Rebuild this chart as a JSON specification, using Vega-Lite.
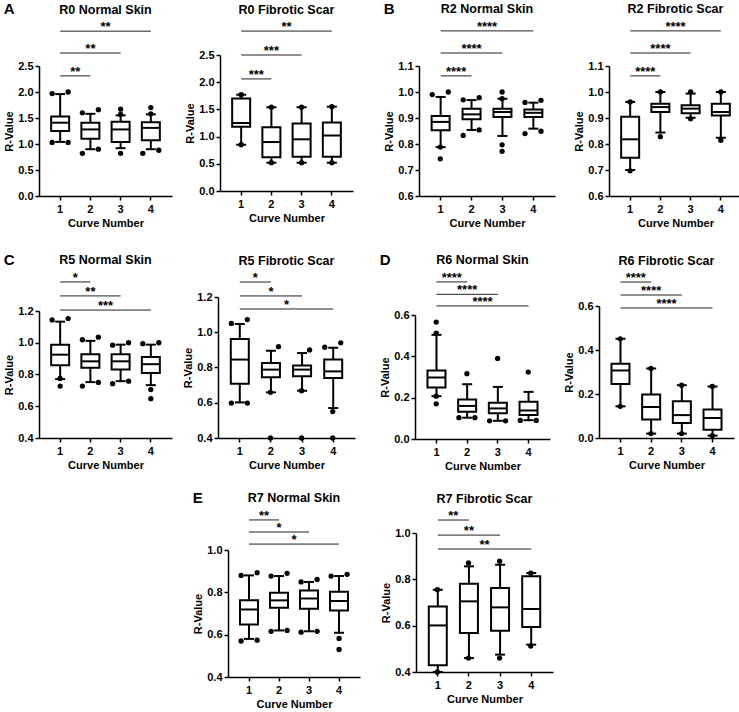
{
"$schema": "https://vega.github.io/schema/vega-lite/v6.json",
"padding": {"left": 3, "top": 2, "right": 2, "bottom": 2},
"config": {
  "font": "Liberation Sans",
  "view": {"stroke": null},
  "axis": {"domainColor": "black", "domainWidth": 1.5, "tickColor": "black", "tickWidth": 1.5, "tickSize": 4, "labelColor": "black", "labelFont": "Liberation Sans", "labelFontWeight": "bold", "labelFontSize": 11, "titleFont": "Liberation Sans", "titleFontWeight": "bold", "titleFontSize": 11, "titleColor": "black", "grid": false, "labelPadding": 2, "labelOverlap": false, "labelFlush": false},
  "axisX": {"labelAngle": 0, "titlePadding": 3, "labelPadding": 3},
  "axisY": {"titlePadding": 3, "labelOverlap": false, "tickCount": 12},
  "title": {"font": "Liberation Sans", "fontSize": 12.5, "fontWeight": "bold", "color": "black", "frame": "group", "anchor": "middle", "offset": 5}
},
"datasets": {
  "R0N_box": [{"curve":1,"lo":1.04,"q1":1.25,"med":1.41,"q3":1.53,"hi":1.96},{"curve":2,"lo":0.90,"q1":1.10,"med":1.28,"q3":1.41,"hi":1.58},{"curve":3,"lo":0.92,"q1":1.04,"med":1.28,"q3":1.43,"hi":1.55},{"curve":4,"lo":0.90,"q1":1.07,"med":1.31,"q3":1.42,"hi":1.57}],
  "R0N_pts": [{"curve":1,"off":-1,"v":1.97},{"curve":1,"off":1,"v":2.0},{"curve":1,"off":-1,"v":1.03},{"curve":1,"off":1,"v":1.03},{"curve":2,"off":-1,"v":1.6},{"curve":2,"off":1,"v":1.66},{"curve":2,"off":-1,"v":0.82},{"curve":2,"off":1,"v":0.9},{"curve":3,"off":0,"v":1.67},{"curve":3,"off":0,"v":1.57},{"curve":3,"off":0,"v":0.82},{"curve":4,"off":0,"v":1.7},{"curve":4,"off":0,"v":1.58},{"curve":4,"off":-1,"v":0.82},{"curve":4,"off":1,"v":0.88}],
  "R0N_sig": [{"curve":1,"curve2":2,"y":2.31,"label":"**"},{"curve":1,"curve2":3,"y":2.75,"label":"**"},{"curve":1,"curve2":4,"y":3.17,"label":"**"}],
  "R0F_box": [{"curve":1,"lo":0.85,"q1":1.18,"med":1.25,"q3":1.70,"hi":1.77},{"curve":2,"lo":0.52,"q1":0.62,"med":0.90,"q3":1.17,"hi":1.54},{"curve":3,"lo":0.52,"q1":0.63,"med":0.95,"q3":1.24,"hi":1.54},{"curve":4,"lo":0.52,"q1":0.63,"med":1.02,"q3":1.26,"hi":1.55}],
  "R0F_pts": [{"curve":1,"off":0,"v":1.77},{"curve":1,"off":0,"v":0.85},{"curve":2,"off":0,"v":1.54},{"curve":2,"off":0,"v":0.52},{"curve":3,"off":0,"v":1.54},{"curve":3,"off":0,"v":0.52},{"curve":4,"off":0,"v":1.55},{"curve":4,"off":0,"v":0.52}],
  "R0F_sig": [{"curve":1,"curve2":2,"y":2.06,"label":"***"},{"curve":1,"curve2":3,"y":2.5,"label":"***"},{"curve":1,"curve2":4,"y":2.94,"label":"**"}],
  "R2N_box": [{"curve":1,"lo":0.788,"q1":0.853,"med":0.885,"q3":0.908,"hi":0.981},{"curve":2,"lo":0.854,"q1":0.895,"med":0.914,"q3":0.936,"hi":0.969},{"curve":3,"lo":0.831,"q1":0.904,"med":0.923,"q3":0.936,"hi":0.974},{"curve":4,"lo":0.859,"q1":0.904,"med":0.92,"q3":0.933,"hi":0.959}],
  "R2N_pts": [{"curve":1,"off":-1,"v":0.99},{"curve":1,"off":1,"v":1.0},{"curve":1,"off":0,"v":0.788},{"curve":1,"off":0,"v":0.743},{"curve":2,"off":-1,"v":0.97},{"curve":2,"off":1,"v":0.978},{"curve":2,"off":-1,"v":0.833},{"curve":2,"off":1,"v":0.854},{"curve":3,"off":0,"v":1.0},{"curve":3,"off":0,"v":0.974},{"curve":3,"off":0,"v":0.797},{"curve":3,"off":0,"v":0.772},{"curve":4,"off":-1,"v":0.96},{"curve":4,"off":1,"v":0.968},{"curve":4,"off":-1,"v":0.84},{"curve":4,"off":1,"v":0.849}],
  "R2N_sig": [{"curve":1,"curve2":2,"y":1.062,"label":"****"},{"curve":1,"curve2":3,"y":1.15,"label":"****"},{"curve":1,"curve2":4,"y":1.235,"label":"****"}],
  "R2F_box": [{"curve":1,"lo":0.70,"q1":0.747,"med":0.818,"q3":0.905,"hi":0.962},{"curve":2,"lo":0.844,"q1":0.923,"med":0.942,"q3":0.955,"hi":1.0},{"curve":3,"lo":0.901,"q1":0.918,"med":0.936,"q3":0.949,"hi":0.994},{"curve":4,"lo":0.824,"q1":0.91,"med":0.923,"q3":0.955,"hi":1.0}],
  "R2F_pts": [{"curve":1,"off":0,"v":0.962},{"curve":1,"off":0,"v":0.697},{"curve":2,"off":0,"v":1.0},{"curve":2,"off":0,"v":0.828},{"curve":3,"off":0,"v":1.0},{"curve":3,"off":0,"v":0.897},{"curve":4,"off":0,"v":1.0},{"curve":4,"off":0,"v":0.814}],
  "R2F_sig": [{"curve":1,"curve2":2,"y":1.062,"label":"****"},{"curve":1,"curve2":3,"y":1.15,"label":"****"},{"curve":1,"curve2":4,"y":1.235,"label":"****"}],
  "R5N_box": [{"curve":1,"lo":0.771,"q1":0.858,"med":0.925,"q3":0.988,"hi":1.133},{"curve":2,"lo":0.752,"q1":0.842,"med":0.883,"q3":0.927,"hi":1.012},{"curve":3,"lo":0.758,"q1":0.831,"med":0.883,"q3":0.927,"hi":0.988},{"curve":4,"lo":0.733,"q1":0.81,"med":0.865,"q3":0.91,"hi":0.988}],
  "R5N_pts": [{"curve":1,"off":-1,"v":1.144},{"curve":1,"off":1,"v":1.152},{"curve":1,"off":0,"v":0.775},{"curve":1,"off":0,"v":0.727},{"curve":2,"off":-1,"v":1.019},{"curve":2,"off":1,"v":1.035},{"curve":2,"off":-1,"v":0.727},{"curve":2,"off":1,"v":0.75},{"curve":3,"off":-1,"v":0.985},{"curve":3,"off":1,"v":1.0},{"curve":3,"off":-1,"v":0.742},{"curve":3,"off":1,"v":0.758},{"curve":4,"off":-1,"v":0.994},{"curve":4,"off":1,"v":1.0},{"curve":4,"off":0,"v":0.705},{"curve":4,"off":0,"v":0.648}],
  "R5N_sig": [{"curve":1,"curve2":2,"y":1.383,"label":"*"},{"curve":1,"curve2":3,"y":1.295,"label":"**"},{"curve":1,"curve2":4,"y":1.206,"label":"***"}],
  "R5F_box": [{"curve":1,"lo":0.602,"q1":0.708,"med":0.845,"q3":0.962,"hi":1.047},{"curve":2,"lo":0.659,"q1":0.744,"med":0.788,"q3":0.825,"hi":0.895},{"curve":3,"lo":0.668,"q1":0.75,"med":0.788,"q3":0.812,"hi":0.882},{"curve":4,"lo":0.57,"q1":0.74,"med":0.778,"q3":0.845,"hi":0.912}],
  "R5F_pts": [{"curve":1,"off":-1,"v":1.05},{"curve":1,"off":1,"v":1.072},{"curve":1,"off":-1,"v":0.598},{"curve":1,"off":1,"v":0.598},{"curve":2,"off":1,"v":0.918},{"curve":2,"off":0,"v":0.659},{"curve":2,"off":0,"v":0.4},{"curve":3,"off":1,"v":0.9},{"curve":3,"off":0,"v":0.668},{"curve":3,"off":0,"v":0.4},{"curve":4,"off":-1,"v":0.915},{"curve":4,"off":1,"v":0.94},{"curve":4,"off":0,"v":0.55},{"curve":4,"off":0,"v":0.4}],
  "R5F_sig": [{"curve":1,"curve2":2,"y":1.285,"label":"*"},{"curve":1,"curve2":3,"y":1.206,"label":"*"},{"curve":1,"curve2":4,"y":1.132,"label":"*"}],
  "R6N_box": [{"curve":1,"lo":0.207,"q1":0.249,"med":0.297,"q3":0.332,"hi":0.504},{"curve":2,"lo":0.103,"q1":0.132,"med":0.16,"q3":0.191,"hi":0.265},{"curve":3,"lo":0.088,"q1":0.124,"med":0.148,"q3":0.175,"hi":0.252},{"curve":4,"lo":0.091,"q1":0.116,"med":0.138,"q3":0.18,"hi":0.228}],
  "R6N_pts": [{"curve":1,"off":0,"v":0.566},{"curve":1,"off":0,"v":0.512},{"curve":1,"off":0,"v":0.207},{"curve":1,"off":0,"v":0.17},{"curve":2,"off":0,"v":0.316},{"curve":2,"off":-1,"v":0.103},{"curve":2,"off":1,"v":0.103},{"curve":3,"off":0,"v":0.39},{"curve":3,"off":-1,"v":0.088},{"curve":3,"off":1,"v":0.088},{"curve":4,"off":0,"v":0.324},{"curve":4,"off":-1,"v":0.09},{"curve":4,"off":1,"v":0.09}],
  "R6N_sig": [{"curve":1,"curve2":2,"y":0.76,"label":"****"},{"curve":1,"curve2":3,"y":0.70,"label":"****"},{"curve":1,"curve2":4,"y":0.644,"label":"****"}],
  "R6F_box": [{"curve":1,"lo":0.144,"q1":0.246,"med":0.307,"q3":0.337,"hi":0.451},{"curve":2,"lo":0.02,"q1":0.084,"med":0.141,"q3":0.198,"hi":0.316},{"curve":3,"lo":0.02,"q1":0.068,"med":0.104,"q3":0.167,"hi":0.24},{"curve":4,"lo":0.011,"q1":0.038,"med":0.091,"q3":0.129,"hi":0.234}],
  "R6F_pts": [{"curve":1,"off":0,"v":0.451},{"curve":1,"off":0,"v":0.144},{"curve":2,"off":0,"v":0.316},{"curve":2,"off":0,"v":0.02},{"curve":3,"off":0,"v":0.24},{"curve":3,"off":0,"v":0.02},{"curve":4,"off":0,"v":0.234},{"curve":4,"off":0,"v":0.011}],
  "R6F_sig": [{"curve":1,"curve2":2,"y":0.709,"label":"****"},{"curve":1,"curve2":3,"y":0.65,"label":"****"},{"curve":1,"curve2":4,"y":0.591,"label":"****"}],
  "R7N_box": [{"curve":1,"lo":0.58,"q1":0.648,"med":0.719,"q3":0.763,"hi":0.88},{"curve":2,"lo":0.62,"q1":0.727,"med":0.762,"q3":0.798,"hi":0.877},{"curve":3,"lo":0.616,"q1":0.722,"med":0.771,"q3":0.809,"hi":0.849},{"curve":4,"lo":0.609,"q1":0.714,"med":0.759,"q3":0.803,"hi":0.877}],
  "R7N_pts": [{"curve":1,"off":-1,"v":0.88},{"curve":1,"off":1,"v":0.893},{"curve":1,"off":-1,"v":0.57},{"curve":1,"off":1,"v":0.574},{"curve":2,"off":-1,"v":0.877},{"curve":2,"off":1,"v":0.89},{"curve":2,"off":-1,"v":0.616},{"curve":2,"off":1,"v":0.62},{"curve":3,"off":-1,"v":0.849},{"curve":3,"off":1,"v":0.861},{"curve":3,"off":-1,"v":0.612},{"curve":3,"off":1,"v":0.616},{"curve":4,"off":-1,"v":0.877},{"curve":4,"off":1,"v":0.885},{"curve":4,"off":0,"v":0.582},{"curve":4,"off":0,"v":0.53}],
  "R7N_sig": [{"curve":1,"curve2":2,"y":1.142,"label":"**"},{"curve":1,"curve2":3,"y":1.085,"label":"*"},{"curve":1,"curve2":4,"y":1.028,"label":"*"}],
  "R7F_box": [{"curve":1,"lo":0.40,"q1":0.429,"med":0.601,"q3":0.683,"hi":0.755},{"curve":2,"lo":0.46,"q1":0.568,"med":0.705,"q3":0.781,"hi":0.856},{"curve":3,"lo":0.475,"q1":0.578,"med":0.679,"q3":0.763,"hi":0.863},{"curve":4,"lo":0.518,"q1":0.594,"med":0.672,"q3":0.813,"hi":0.827}],
  "R7F_pts": [{"curve":1,"off":0,"v":0.755},{"curve":1,"off":0,"v":0.4},{"curve":2,"off":0,"v":0.871},{"curve":2,"off":0,"v":0.46},{"curve":3,"off":0,"v":0.878},{"curve":3,"off":0,"v":0.46},{"curve":4,"off":0,"v":0.827},{"curve":4,"off":0,"v":0.512}],
  "R7F_sig": [{"curve":1,"curve2":2,"y":1.056,"label":"**"},{"curve":1,"curve2":3,"y":0.991,"label":"**"},{"curve":1,"curve2":4,"y":0.931,"label":"**"}]
},
"spacing": 20,
"center": true,
"vconcat": [
 {"spacing": 25, "vconcat": [
 {"spacing": 30, "hconcat": [
  {"title": {"text": "A", "anchor": "start", "frame": "bounds", "orient": "top", "fontSize": 15, "baseline": "top", "offset": -15}, "spacing": 12, "hconcat": [
   {"spacing": 0, "vconcat": [{"width": 133, "height": 1, "data": {"values": []}, "mark": "rule", "encoding": {}},
   {"title": "R0 Normal Skin", "width": 133, "height": 130, "resolve": {"scale": {"x": "independent"}}, "layer": [
    {"layer": [
     {"data": {"name": "R0N_box"}, "mark": {"type": "rule", "strokeWidth": 2, "color": "black"}, "encoding": {"x": {"field": "curve", "type": "ordinal", "scale": {"type": "band", "paddingInner": 0, "paddingOuter": 0.2}, "axis": {"title": "Curve Number"}}, "y": {"field": "lo", "type": "quantitative", "scale": {"domain": [0, 2.5], "nice": false, "zero": false}, "axis": {"values": [0,0.5,1,1.5,2,2.5], "tickCount": 12, "format": ".1f", "title": "R-Value", "labelOverlap": false}}, "y2": {"field": "hi"}}},
     {"data": {"name": "R0N_box"}, "mark": {"type": "bar", "width": 18, "fill": "white", "stroke": "black", "strokeWidth": 2}, "encoding": {"x": {"field": "curve", "type": "ordinal"}, "y": {"field": "q1", "type": "quantitative"}, "y2": {"field": "q3"}}},
     {"data": {"name": "R0N_box"}, "mark": {"type": "tick", "size": 18, "thickness": 2, "color": "black", "opacity": 1}, "encoding": {"x": {"field": "curve", "type": "ordinal"}, "y": {"field": "med", "type": "quantitative"}}},
     {"data": {"name": "R0N_box"}, "mark": {"type": "tick", "size": 10, "thickness": 2, "color": "black", "opacity": 1}, "encoding": {"x": {"field": "curve", "type": "ordinal"}, "y": {"field": "lo", "type": "quantitative"}}},
     {"data": {"name": "R0N_box"}, "mark": {"type": "tick", "size": 10, "thickness": 2, "color": "black", "opacity": 1}, "encoding": {"x": {"field": "curve", "type": "ordinal"}, "y": {"field": "hi", "type": "quantitative"}}},
     {"data": {"name": "R0N_pts"}, "mark": {"type": "point", "filled": true, "size": 28, "color": "black", "opacity": 1}, "encoding": {"x": {"field": "curve", "type": "ordinal"}, "xOffset": {"field": "off", "type": "quantitative", "scale": {"domain": [-1, 1], "range": [7.1, 23.1]}}, "y": {"field": "v", "type": "quantitative"}}}
    ]},
    {"layer": [
     {"data": {"name": "R0N_sig"}, "mark": {"type": "rule", "strokeWidth": 1, "color": "#222"}, "encoding": {"x": {"field": "curve", "type": "quantitative", "scale": {"domain": [0.3, 4.7], "nice": false, "zero": false}, "axis": null}, "x2": {"field": "curve2"}, "y": {"field": "y", "type": "quantitative", "scale": {"domain": [0, 2.5], "nice": false, "zero": false}, "axis": {"values": [0,0.5,1,1.5,2,2.5], "tickCount": 12, "format": ".1f", "title": "R-Value", "labelOverlap": false}}}},
     {"data": {"name": "R0N_sig"}, "transform": [{"fold": ["curve", "curve2"], "as": ["end", "xv"]}], "mark": {"type": "text", "fontSize": 13, "fontWeight": "bold", "baseline": "alphabetic", "color": "black"}, "encoding": {"x": {"field": "xv", "type": "quantitative", "aggregate": "mean"}, "y": {"field": "y", "type": "quantitative"}, "text": {"field": "label"}}}
    ]}
   ]}]},
   {"spacing": 0, "vconcat": [{"width": 133, "height": 1, "data": {"values": []}, "mark": "rule", "encoding": {}},
   {"title": "R0 Fibrotic Scar", "width": 133, "height": 136, "resolve": {"scale": {"x": "independent"}}, "layer": [
    {"layer": [
     {"data": {"name": "R0F_box"}, "mark": {"type": "rule", "strokeWidth": 2, "color": "black"}, "encoding": {"x": {"field": "curve", "type": "ordinal", "scale": {"type": "band", "paddingInner": 0, "paddingOuter": 0.2}, "axis": {"title": "Curve Number"}}, "y": {"field": "lo", "type": "quantitative", "scale": {"domain": [0, 2.5], "nice": false, "zero": false}, "axis": {"values": [0,0.5,1,1.5,2,2.5], "tickCount": 12, "format": ".1f", "title": "R-Value", "labelOverlap": false}}, "y2": {"field": "hi"}}},
     {"data": {"name": "R0F_box"}, "mark": {"type": "bar", "width": 18, "fill": "white", "stroke": "black", "strokeWidth": 2}, "encoding": {"x": {"field": "curve", "type": "ordinal"}, "y": {"field": "q1", "type": "quantitative"}, "y2": {"field": "q3"}}},
     {"data": {"name": "R0F_box"}, "mark": {"type": "tick", "size": 18, "thickness": 2, "color": "black", "opacity": 1}, "encoding": {"x": {"field": "curve", "type": "ordinal"}, "y": {"field": "med", "type": "quantitative"}}},
     {"data": {"name": "R0F_box"}, "mark": {"type": "tick", "size": 10, "thickness": 2, "color": "black", "opacity": 1}, "encoding": {"x": {"field": "curve", "type": "ordinal"}, "y": {"field": "lo", "type": "quantitative"}}},
     {"data": {"name": "R0F_box"}, "mark": {"type": "tick", "size": 10, "thickness": 2, "color": "black", "opacity": 1}, "encoding": {"x": {"field": "curve", "type": "ordinal"}, "y": {"field": "hi", "type": "quantitative"}}},
     {"data": {"name": "R0F_pts"}, "mark": {"type": "point", "filled": true, "size": 28, "color": "black", "opacity": 1}, "encoding": {"x": {"field": "curve", "type": "ordinal"}, "xOffset": {"field": "off", "type": "quantitative", "scale": {"domain": [-1, 1], "range": [7.1, 23.1]}}, "y": {"field": "v", "type": "quantitative"}}}
    ]},
    {"layer": [
     {"data": {"name": "R0F_sig"}, "mark": {"type": "rule", "strokeWidth": 1, "color": "#222"}, "encoding": {"x": {"field": "curve", "type": "quantitative", "scale": {"domain": [0.3, 4.7], "nice": false, "zero": false}, "axis": null}, "x2": {"field": "curve2"}, "y": {"field": "y", "type": "quantitative", "scale": {"domain": [0, 2.5], "nice": false, "zero": false}, "axis": {"values": [0,0.5,1,1.5,2,2.5], "tickCount": 12, "format": ".1f", "title": "R-Value", "labelOverlap": false}}}},
     {"data": {"name": "R0F_sig"}, "transform": [{"fold": ["curve", "curve2"], "as": ["end", "xv"]}], "mark": {"type": "text", "fontSize": 13, "fontWeight": "bold", "baseline": "alphabetic", "color": "black"}, "encoding": {"x": {"field": "xv", "type": "quantitative", "aggregate": "mean"}, "y": {"field": "y", "type": "quantitative"}, "text": {"field": "label"}}}
    ]}
   ]}]}
  ]},
  {"title": {"text": "B", "anchor": "start", "frame": "bounds", "orient": "top", "fontSize": 15, "baseline": "top", "offset": -15}, "spacing": 18, "hconcat": [
   {"spacing": 0, "vconcat": [{"width": 136, "height": 1, "data": {"values": []}, "mark": "rule", "encoding": {}},
   {"title": "R2 Normal Skin", "width": 136, "height": 130, "resolve": {"scale": {"x": "independent"}}, "layer": [
    {"layer": [
     {"data": {"name": "R2N_box"}, "mark": {"type": "rule", "strokeWidth": 2, "color": "black"}, "encoding": {"x": {"field": "curve", "type": "ordinal", "scale": {"type": "band", "paddingInner": 0, "paddingOuter": 0.2}, "axis": {"title": "Curve Number"}}, "y": {"field": "lo", "type": "quantitative", "scale": {"domain": [0.6, 1.1], "nice": false, "zero": false}, "axis": {"values": [0.6,0.7,0.8,0.9,1.0,1.1], "tickCount": 12, "format": ".1f", "title": "R-Value", "labelOverlap": false}}, "y2": {"field": "hi"}}},
     {"data": {"name": "R2N_box"}, "mark": {"type": "bar", "width": 18, "fill": "white", "stroke": "black", "strokeWidth": 2}, "encoding": {"x": {"field": "curve", "type": "ordinal"}, "y": {"field": "q1", "type": "quantitative"}, "y2": {"field": "q3"}}},
     {"data": {"name": "R2N_box"}, "mark": {"type": "tick", "size": 18, "thickness": 2, "color": "black", "opacity": 1}, "encoding": {"x": {"field": "curve", "type": "ordinal"}, "y": {"field": "med", "type": "quantitative"}}},
     {"data": {"name": "R2N_box"}, "mark": {"type": "tick", "size": 10, "thickness": 2, "color": "black", "opacity": 1}, "encoding": {"x": {"field": "curve", "type": "ordinal"}, "y": {"field": "lo", "type": "quantitative"}}},
     {"data": {"name": "R2N_box"}, "mark": {"type": "tick", "size": 10, "thickness": 2, "color": "black", "opacity": 1}, "encoding": {"x": {"field": "curve", "type": "ordinal"}, "y": {"field": "hi", "type": "quantitative"}}},
     {"data": {"name": "R2N_pts"}, "mark": {"type": "point", "filled": true, "size": 28, "color": "black", "opacity": 1}, "encoding": {"x": {"field": "curve", "type": "ordinal"}, "xOffset": {"field": "off", "type": "quantitative", "scale": {"domain": [-1, 1], "range": [7.45, 23.45]}}, "y": {"field": "v", "type": "quantitative"}}}
    ]},
    {"layer": [
     {"data": {"name": "R2N_sig"}, "mark": {"type": "rule", "strokeWidth": 1, "color": "#222"}, "encoding": {"x": {"field": "curve", "type": "quantitative", "scale": {"domain": [0.3, 4.7], "nice": false, "zero": false}, "axis": null}, "x2": {"field": "curve2"}, "y": {"field": "y", "type": "quantitative", "scale": {"domain": [0.6, 1.1], "nice": false, "zero": false}, "axis": {"values": [0.6,0.7,0.8,0.9,1.0,1.1], "tickCount": 12, "format": ".1f", "title": "R-Value", "labelOverlap": false}}}},
     {"data": {"name": "R2N_sig"}, "transform": [{"fold": ["curve", "curve2"], "as": ["end", "xv"]}], "mark": {"type": "text", "fontSize": 13, "fontWeight": "bold", "baseline": "alphabetic", "color": "black"}, "encoding": {"x": {"field": "xv", "type": "quantitative", "aggregate": "mean"}, "y": {"field": "y", "type": "quantitative"}, "text": {"field": "label"}}}
    ]}
   ]}]},
   {"spacing": 0, "vconcat": [{"width": 133, "height": 1, "data": {"values": []}, "mark": "rule", "encoding": {}},
   {"title": "R2 Fibrotic Scar", "width": 133, "height": 130, "resolve": {"scale": {"x": "independent"}}, "layer": [
    {"layer": [
     {"data": {"name": "R2F_box"}, "mark": {"type": "rule", "strokeWidth": 2, "color": "black"}, "encoding": {"x": {"field": "curve", "type": "ordinal", "scale": {"type": "band", "paddingInner": 0, "paddingOuter": 0.2}, "axis": {"title": "Curve Number"}}, "y": {"field": "lo", "type": "quantitative", "scale": {"domain": [0.6, 1.1], "nice": false, "zero": false}, "axis": {"values": [0.6,0.7,0.8,0.9,1.0,1.1], "tickCount": 12, "format": ".1f", "title": "R-Value", "labelOverlap": false}}, "y2": {"field": "hi"}}},
     {"data": {"name": "R2F_box"}, "mark": {"type": "bar", "width": 18, "fill": "white", "stroke": "black", "strokeWidth": 2}, "encoding": {"x": {"field": "curve", "type": "ordinal"}, "y": {"field": "q1", "type": "quantitative"}, "y2": {"field": "q3"}}},
     {"data": {"name": "R2F_box"}, "mark": {"type": "tick", "size": 18, "thickness": 2, "color": "black", "opacity": 1}, "encoding": {"x": {"field": "curve", "type": "ordinal"}, "y": {"field": "med", "type": "quantitative"}}},
     {"data": {"name": "R2F_box"}, "mark": {"type": "tick", "size": 10, "thickness": 2, "color": "black", "opacity": 1}, "encoding": {"x": {"field": "curve", "type": "ordinal"}, "y": {"field": "lo", "type": "quantitative"}}},
     {"data": {"name": "R2F_box"}, "mark": {"type": "tick", "size": 10, "thickness": 2, "color": "black", "opacity": 1}, "encoding": {"x": {"field": "curve", "type": "ordinal"}, "y": {"field": "hi", "type": "quantitative"}}},
     {"data": {"name": "R2F_pts"}, "mark": {"type": "point", "filled": true, "size": 28, "color": "black", "opacity": 1}, "encoding": {"x": {"field": "curve", "type": "ordinal"}, "xOffset": {"field": "off", "type": "quantitative", "scale": {"domain": [-1, 1], "range": [7.1, 23.1]}}, "y": {"field": "v", "type": "quantitative"}}}
    ]},
    {"layer": [
     {"data": {"name": "R2F_sig"}, "mark": {"type": "rule", "strokeWidth": 1, "color": "#222"}, "encoding": {"x": {"field": "curve", "type": "quantitative", "scale": {"domain": [0.3, 4.7], "nice": false, "zero": false}, "axis": null}, "x2": {"field": "curve2"}, "y": {"field": "y", "type": "quantitative", "scale": {"domain": [0.6, 1.1], "nice": false, "zero": false}, "axis": {"values": [0.6,0.7,0.8,0.9,1.0,1.1], "tickCount": 12, "format": ".1f", "title": "R-Value", "labelOverlap": false}}}},
     {"data": {"name": "R2F_sig"}, "transform": [{"fold": ["curve", "curve2"], "as": ["end", "xv"]}], "mark": {"type": "text", "fontSize": 13, "fontWeight": "bold", "baseline": "alphabetic", "color": "black"}, "encoding": {"x": {"field": "xv", "type": "quantitative", "aggregate": "mean"}, "y": {"field": "y", "type": "quantitative"}, "text": {"field": "label"}}}
    ]}
   ]}]}
  ]}
 ]},
 {"spacing": 24, "hconcat": [
  {"title": {"text": "C", "anchor": "start", "frame": "bounds", "orient": "top", "fontSize": 15, "baseline": "top", "offset": -15}, "spacing": 10, "hconcat": [
   {"spacing": 0, "vconcat": [{"width": 133, "height": 1, "data": {"values": []}, "mark": "rule", "encoding": {}},
   {"title": "R5 Normal Skin", "width": 133, "height": 127, "resolve": {"scale": {"x": "independent"}}, "layer": [
    {"layer": [
     {"data": {"name": "R5N_box"}, "mark": {"type": "rule", "strokeWidth": 2, "color": "black"}, "encoding": {"x": {"field": "curve", "type": "ordinal", "scale": {"type": "band", "paddingInner": 0, "paddingOuter": 0.2}, "axis": {"title": "Curve Number"}}, "y": {"field": "lo", "type": "quantitative", "scale": {"domain": [0.4, 1.2], "nice": false, "zero": false}, "axis": {"values": [0.4,0.6,0.8,1.0,1.2], "tickCount": 12, "format": ".1f", "title": "R-Value", "labelOverlap": false}}, "y2": {"field": "hi"}}},
     {"data": {"name": "R5N_box"}, "mark": {"type": "bar", "width": 18, "fill": "white", "stroke": "black", "strokeWidth": 2}, "encoding": {"x": {"field": "curve", "type": "ordinal"}, "y": {"field": "q1", "type": "quantitative"}, "y2": {"field": "q3"}}},
     {"data": {"name": "R5N_box"}, "mark": {"type": "tick", "size": 18, "thickness": 2, "color": "black", "opacity": 1}, "encoding": {"x": {"field": "curve", "type": "ordinal"}, "y": {"field": "med", "type": "quantitative"}}},
     {"data": {"name": "R5N_box"}, "mark": {"type": "tick", "size": 10, "thickness": 2, "color": "black", "opacity": 1}, "encoding": {"x": {"field": "curve", "type": "ordinal"}, "y": {"field": "lo", "type": "quantitative"}}},
     {"data": {"name": "R5N_box"}, "mark": {"type": "tick", "size": 10, "thickness": 2, "color": "black", "opacity": 1}, "encoding": {"x": {"field": "curve", "type": "ordinal"}, "y": {"field": "hi", "type": "quantitative"}}},
     {"data": {"name": "R5N_pts"}, "mark": {"type": "point", "filled": true, "size": 28, "color": "black", "opacity": 1}, "encoding": {"x": {"field": "curve", "type": "ordinal"}, "xOffset": {"field": "off", "type": "quantitative", "scale": {"domain": [-1, 1], "range": [7.1, 23.1]}}, "y": {"field": "v", "type": "quantitative"}}}
    ]},
    {"layer": [
     {"data": {"name": "R5N_sig"}, "mark": {"type": "rule", "strokeWidth": 1, "color": "#222"}, "encoding": {"x": {"field": "curve", "type": "quantitative", "scale": {"domain": [0.3, 4.7], "nice": false, "zero": false}, "axis": null}, "x2": {"field": "curve2"}, "y": {"field": "y", "type": "quantitative", "scale": {"domain": [0.4, 1.2], "nice": false, "zero": false}, "axis": {"values": [0.4,0.6,0.8,1.0,1.2], "tickCount": 12, "format": ".1f", "title": "R-Value", "labelOverlap": false}}}},
     {"data": {"name": "R5N_sig"}, "transform": [{"fold": ["curve", "curve2"], "as": ["end", "xv"]}], "mark": {"type": "text", "fontSize": 13, "fontWeight": "bold", "baseline": "alphabetic", "color": "black"}, "encoding": {"x": {"field": "xv", "type": "quantitative", "aggregate": "mean"}, "y": {"field": "y", "type": "quantitative"}, "text": {"field": "label"}}}
    ]}
   ]}]},
   {"spacing": 0, "vconcat": [{"width": 137, "height": 1, "data": {"values": []}, "mark": "rule", "encoding": {}},
   {"title": "R5 Fibrotic Scar", "width": 137, "height": 141, "resolve": {"scale": {"x": "independent"}}, "layer": [
    {"layer": [
     {"data": {"name": "R5F_box"}, "mark": {"type": "rule", "strokeWidth": 2, "color": "black"}, "encoding": {"x": {"field": "curve", "type": "ordinal", "scale": {"type": "band", "paddingInner": 0, "paddingOuter": 0.2}, "axis": {"title": "Curve Number"}}, "y": {"field": "lo", "type": "quantitative", "scale": {"domain": [0.4, 1.2], "nice": false, "zero": false}, "axis": {"values": [0.4,0.6,0.8,1.0,1.2], "tickCount": 12, "format": ".1f", "title": "R-Value", "labelOverlap": false}}, "y2": {"field": "hi"}}},
     {"data": {"name": "R5F_box"}, "mark": {"type": "bar", "width": 18, "fill": "white", "stroke": "black", "strokeWidth": 2}, "encoding": {"x": {"field": "curve", "type": "ordinal"}, "y": {"field": "q1", "type": "quantitative"}, "y2": {"field": "q3"}}},
     {"data": {"name": "R5F_box"}, "mark": {"type": "tick", "size": 18, "thickness": 2, "color": "black", "opacity": 1}, "encoding": {"x": {"field": "curve", "type": "ordinal"}, "y": {"field": "med", "type": "quantitative"}}},
     {"data": {"name": "R5F_box"}, "mark": {"type": "tick", "size": 10, "thickness": 2, "color": "black", "opacity": 1}, "encoding": {"x": {"field": "curve", "type": "ordinal"}, "y": {"field": "lo", "type": "quantitative"}}},
     {"data": {"name": "R5F_box"}, "mark": {"type": "tick", "size": 10, "thickness": 2, "color": "black", "opacity": 1}, "encoding": {"x": {"field": "curve", "type": "ordinal"}, "y": {"field": "hi", "type": "quantitative"}}},
     {"data": {"name": "R5F_pts"}, "mark": {"type": "point", "filled": true, "size": 28, "color": "black", "opacity": 1}, "encoding": {"x": {"field": "curve", "type": "ordinal"}, "xOffset": {"field": "off", "type": "quantitative", "scale": {"domain": [-1, 1], "range": [7.57, 23.57]}}, "y": {"field": "v", "type": "quantitative"}}}
    ]},
    {"layer": [
     {"data": {"name": "R5F_sig"}, "mark": {"type": "rule", "strokeWidth": 1, "color": "#222"}, "encoding": {"x": {"field": "curve", "type": "quantitative", "scale": {"domain": [0.3, 4.7], "nice": false, "zero": false}, "axis": null}, "x2": {"field": "curve2"}, "y": {"field": "y", "type": "quantitative", "scale": {"domain": [0.4, 1.2], "nice": false, "zero": false}, "axis": {"values": [0.4,0.6,0.8,1.0,1.2], "tickCount": 12, "format": ".1f", "title": "R-Value", "labelOverlap": false}}}},
     {"data": {"name": "R5F_sig"}, "transform": [{"fold": ["curve", "curve2"], "as": ["end", "xv"]}], "mark": {"type": "text", "fontSize": 13, "fontWeight": "bold", "baseline": "alphabetic", "color": "black"}, "encoding": {"x": {"field": "xv", "type": "quantitative", "aggregate": "mean"}, "y": {"field": "y", "type": "quantitative"}, "text": {"field": "label"}}}
    ]}
   ]}]}
  ]},
  {"title": {"text": "D", "anchor": "start", "frame": "bounds", "orient": "top", "fontSize": 15, "baseline": "top", "offset": -15}, "spacing": 13, "hconcat": [
   {"spacing": 0, "vconcat": [{"width": 135, "height": 1, "data": {"values": []}, "mark": "rule", "encoding": {}},
   {"title": "R6 Normal Skin", "width": 135, "height": 124, "resolve": {"scale": {"x": "independent"}}, "layer": [
    {"layer": [
     {"data": {"name": "R6N_box"}, "mark": {"type": "rule", "strokeWidth": 2, "color": "black"}, "encoding": {"x": {"field": "curve", "type": "ordinal", "scale": {"type": "band", "paddingInner": 0, "paddingOuter": 0.2}, "axis": {"title": "Curve Number"}}, "y": {"field": "lo", "type": "quantitative", "scale": {"domain": [0, 0.6], "nice": false, "zero": false}, "axis": {"values": [0,0.2,0.4,0.6], "tickCount": 12, "format": ".1f", "title": "R-Value", "labelOverlap": false}}, "y2": {"field": "hi"}}},
     {"data": {"name": "R6N_box"}, "mark": {"type": "bar", "width": 18, "fill": "white", "stroke": "black", "strokeWidth": 2}, "encoding": {"x": {"field": "curve", "type": "ordinal"}, "y": {"field": "q1", "type": "quantitative"}, "y2": {"field": "q3"}}},
     {"data": {"name": "R6N_box"}, "mark": {"type": "tick", "size": 18, "thickness": 2, "color": "black", "opacity": 1}, "encoding": {"x": {"field": "curve", "type": "ordinal"}, "y": {"field": "med", "type": "quantitative"}}},
     {"data": {"name": "R6N_box"}, "mark": {"type": "tick", "size": 10, "thickness": 2, "color": "black", "opacity": 1}, "encoding": {"x": {"field": "curve", "type": "ordinal"}, "y": {"field": "lo", "type": "quantitative"}}},
     {"data": {"name": "R6N_box"}, "mark": {"type": "tick", "size": 10, "thickness": 2, "color": "black", "opacity": 1}, "encoding": {"x": {"field": "curve", "type": "ordinal"}, "y": {"field": "hi", "type": "quantitative"}}},
     {"data": {"name": "R6N_pts"}, "mark": {"type": "point", "filled": true, "size": 28, "color": "black", "opacity": 1}, "encoding": {"x": {"field": "curve", "type": "ordinal"}, "xOffset": {"field": "off", "type": "quantitative", "scale": {"domain": [-1, 1], "range": [7.34, 23.34]}}, "y": {"field": "v", "type": "quantitative"}}}
    ]},
    {"layer": [
     {"data": {"name": "R6N_sig"}, "mark": {"type": "rule", "strokeWidth": 1, "color": "#222"}, "encoding": {"x": {"field": "curve", "type": "quantitative", "scale": {"domain": [0.3, 4.7], "nice": false, "zero": false}, "axis": null}, "x2": {"field": "curve2"}, "y": {"field": "y", "type": "quantitative", "scale": {"domain": [0, 0.6], "nice": false, "zero": false}, "axis": {"values": [0,0.2,0.4,0.6], "tickCount": 12, "format": ".1f", "title": "R-Value", "labelOverlap": false}}}},
     {"data": {"name": "R6N_sig"}, "transform": [{"fold": ["curve", "curve2"], "as": ["end", "xv"]}], "mark": {"type": "text", "fontSize": 13, "fontWeight": "bold", "baseline": "alphabetic", "color": "black"}, "encoding": {"x": {"field": "xv", "type": "quantitative", "aggregate": "mean"}, "y": {"field": "y", "type": "quantitative"}, "text": {"field": "label"}}}
    ]}
   ]}]},
   {"spacing": 0, "vconcat": [{"width": 135, "height": 1, "data": {"values": []}, "mark": "rule", "encoding": {}},
   {"title": "R6 Fibrotic Scar", "width": 135, "height": 132, "resolve": {"scale": {"x": "independent"}}, "layer": [
    {"layer": [
     {"data": {"name": "R6F_box"}, "mark": {"type": "rule", "strokeWidth": 2, "color": "black"}, "encoding": {"x": {"field": "curve", "type": "ordinal", "scale": {"type": "band", "paddingInner": 0, "paddingOuter": 0.2}, "axis": {"title": "Curve Number"}}, "y": {"field": "lo", "type": "quantitative", "scale": {"domain": [0, 0.6], "nice": false, "zero": false}, "axis": {"values": [0,0.2,0.4,0.6], "tickCount": 12, "format": ".1f", "title": "R-Value", "labelOverlap": false}}, "y2": {"field": "hi"}}},
     {"data": {"name": "R6F_box"}, "mark": {"type": "bar", "width": 18, "fill": "white", "stroke": "black", "strokeWidth": 2}, "encoding": {"x": {"field": "curve", "type": "ordinal"}, "y": {"field": "q1", "type": "quantitative"}, "y2": {"field": "q3"}}},
     {"data": {"name": "R6F_box"}, "mark": {"type": "tick", "size": 18, "thickness": 2, "color": "black", "opacity": 1}, "encoding": {"x": {"field": "curve", "type": "ordinal"}, "y": {"field": "med", "type": "quantitative"}}},
     {"data": {"name": "R6F_box"}, "mark": {"type": "tick", "size": 10, "thickness": 2, "color": "black", "opacity": 1}, "encoding": {"x": {"field": "curve", "type": "ordinal"}, "y": {"field": "lo", "type": "quantitative"}}},
     {"data": {"name": "R6F_box"}, "mark": {"type": "tick", "size": 10, "thickness": 2, "color": "black", "opacity": 1}, "encoding": {"x": {"field": "curve", "type": "ordinal"}, "y": {"field": "hi", "type": "quantitative"}}},
     {"data": {"name": "R6F_pts"}, "mark": {"type": "point", "filled": true, "size": 28, "color": "black", "opacity": 1}, "encoding": {"x": {"field": "curve", "type": "ordinal"}, "xOffset": {"field": "off", "type": "quantitative", "scale": {"domain": [-1, 1], "range": [7.34, 23.34]}}, "y": {"field": "v", "type": "quantitative"}}}
    ]},
    {"layer": [
     {"data": {"name": "R6F_sig"}, "mark": {"type": "rule", "strokeWidth": 1, "color": "#222"}, "encoding": {"x": {"field": "curve", "type": "quantitative", "scale": {"domain": [0.3, 4.7], "nice": false, "zero": false}, "axis": null}, "x2": {"field": "curve2"}, "y": {"field": "y", "type": "quantitative", "scale": {"domain": [0, 0.6], "nice": false, "zero": false}, "axis": {"values": [0,0.2,0.4,0.6], "tickCount": 12, "format": ".1f", "title": "R-Value", "labelOverlap": false}}}},
     {"data": {"name": "R6F_sig"}, "transform": [{"fold": ["curve", "curve2"], "as": ["end", "xv"]}], "mark": {"type": "text", "fontSize": 13, "fontWeight": "bold", "baseline": "alphabetic", "color": "black"}, "encoding": {"x": {"field": "xv", "type": "quantitative", "aggregate": "mean"}, "y": {"field": "y", "type": "quantitative"}, "text": {"field": "label"}}}
    ]}
   ]}]}
  ]}
 ]}
 ]},
 {"title": {"text": "E", "anchor": "start", "frame": "bounds", "orient": "top", "fontSize": 15, "baseline": "top", "offset": -15}, "spacing": 20, "hconcat": [
   {"spacing": 0, "vconcat": [{"width": 132, "height": 1, "data": {"values": []}, "mark": "rule", "encoding": {}},
   {"title": "R7 Normal Skin", "width": 132, "height": 127, "resolve": {"scale": {"x": "independent"}}, "layer": [
    {"layer": [
     {"data": {"name": "R7N_box"}, "mark": {"type": "rule", "strokeWidth": 2, "color": "black"}, "encoding": {"x": {"field": "curve", "type": "ordinal", "scale": {"type": "band", "paddingInner": 0, "paddingOuter": 0.2}, "axis": {"title": "Curve Number"}}, "y": {"field": "lo", "type": "quantitative", "scale": {"domain": [0.4, 1.0], "nice": false, "zero": false}, "axis": {"values": [0.4,0.6,0.8,1.0], "tickCount": 12, "format": ".1f", "title": "R-Value", "labelOverlap": false}}, "y2": {"field": "hi"}}},
     {"data": {"name": "R7N_box"}, "mark": {"type": "bar", "width": 18, "fill": "white", "stroke": "black", "strokeWidth": 2}, "encoding": {"x": {"field": "curve", "type": "ordinal"}, "y": {"field": "q1", "type": "quantitative"}, "y2": {"field": "q3"}}},
     {"data": {"name": "R7N_box"}, "mark": {"type": "tick", "size": 18, "thickness": 2, "color": "black", "opacity": 1}, "encoding": {"x": {"field": "curve", "type": "ordinal"}, "y": {"field": "med", "type": "quantitative"}}},
     {"data": {"name": "R7N_box"}, "mark": {"type": "tick", "size": 10, "thickness": 2, "color": "black", "opacity": 1}, "encoding": {"x": {"field": "curve", "type": "ordinal"}, "y": {"field": "lo", "type": "quantitative"}}},
     {"data": {"name": "R7N_box"}, "mark": {"type": "tick", "size": 10, "thickness": 2, "color": "black", "opacity": 1}, "encoding": {"x": {"field": "curve", "type": "ordinal"}, "y": {"field": "hi", "type": "quantitative"}}},
     {"data": {"name": "R7N_pts"}, "mark": {"type": "point", "filled": true, "size": 28, "color": "black", "opacity": 1}, "encoding": {"x": {"field": "curve", "type": "ordinal"}, "xOffset": {"field": "off", "type": "quantitative", "scale": {"domain": [-1, 1], "range": [7.0, 23.0]}}, "y": {"field": "v", "type": "quantitative"}}}
    ]},
    {"layer": [
     {"data": {"name": "R7N_sig"}, "mark": {"type": "rule", "strokeWidth": 1, "color": "#222"}, "encoding": {"x": {"field": "curve", "type": "quantitative", "scale": {"domain": [0.3, 4.7], "nice": false, "zero": false}, "axis": null}, "x2": {"field": "curve2"}, "y": {"field": "y", "type": "quantitative", "scale": {"domain": [0.4, 1.0], "nice": false, "zero": false}, "axis": {"values": [0.4,0.6,0.8,1.0], "tickCount": 12, "format": ".1f", "title": "R-Value", "labelOverlap": false}}}},
     {"data": {"name": "R7N_sig"}, "transform": [{"fold": ["curve", "curve2"], "as": ["end", "xv"]}], "mark": {"type": "text", "fontSize": 13, "fontWeight": "bold", "baseline": "alphabetic", "color": "black"}, "encoding": {"x": {"field": "xv", "type": "quantitative", "aggregate": "mean"}, "y": {"field": "y", "type": "quantitative"}, "text": {"field": "label"}}}
    ]}
   ]}]},
   {"spacing": 0, "vconcat": [{"width": 137, "height": 1, "data": {"values": []}, "mark": "rule", "encoding": {}},
   {"title": "R7 Fibrotic Scar", "width": 137, "height": 139, "resolve": {"scale": {"x": "independent"}}, "layer": [
    {"layer": [
     {"data": {"name": "R7F_box"}, "mark": {"type": "rule", "strokeWidth": 2, "color": "black"}, "encoding": {"x": {"field": "curve", "type": "ordinal", "scale": {"type": "band", "paddingInner": 0, "paddingOuter": 0.2}, "axis": {"title": "Curve Number"}}, "y": {"field": "lo", "type": "quantitative", "scale": {"domain": [0.4, 1.0], "nice": false, "zero": false}, "axis": {"values": [0.4,0.6,0.8,1.0], "tickCount": 12, "format": ".1f", "title": "R-Value", "labelOverlap": false}}, "y2": {"field": "hi"}}},
     {"data": {"name": "R7F_box"}, "mark": {"type": "bar", "width": 18, "fill": "white", "stroke": "black", "strokeWidth": 2}, "encoding": {"x": {"field": "curve", "type": "ordinal"}, "y": {"field": "q1", "type": "quantitative"}, "y2": {"field": "q3"}}},
     {"data": {"name": "R7F_box"}, "mark": {"type": "tick", "size": 18, "thickness": 2, "color": "black", "opacity": 1}, "encoding": {"x": {"field": "curve", "type": "ordinal"}, "y": {"field": "med", "type": "quantitative"}}},
     {"data": {"name": "R7F_box"}, "mark": {"type": "tick", "size": 10, "thickness": 2, "color": "black", "opacity": 1}, "encoding": {"x": {"field": "curve", "type": "ordinal"}, "y": {"field": "lo", "type": "quantitative"}}},
     {"data": {"name": "R7F_box"}, "mark": {"type": "tick", "size": 10, "thickness": 2, "color": "black", "opacity": 1}, "encoding": {"x": {"field": "curve", "type": "ordinal"}, "y": {"field": "hi", "type": "quantitative"}}},
     {"data": {"name": "R7F_pts"}, "mark": {"type": "point", "filled": true, "size": 28, "color": "black", "opacity": 1}, "encoding": {"x": {"field": "curve", "type": "ordinal"}, "xOffset": {"field": "off", "type": "quantitative", "scale": {"domain": [-1, 1], "range": [7.57, 23.57]}}, "y": {"field": "v", "type": "quantitative"}}}
    ]},
    {"layer": [
     {"data": {"name": "R7F_sig"}, "mark": {"type": "rule", "strokeWidth": 1, "color": "#222"}, "encoding": {"x": {"field": "curve", "type": "quantitative", "scale": {"domain": [0.3, 4.7], "nice": false, "zero": false}, "axis": null}, "x2": {"field": "curve2"}, "y": {"field": "y", "type": "quantitative", "scale": {"domain": [0.4, 1.0], "nice": false, "zero": false}, "axis": {"values": [0.4,0.6,0.8,1.0], "tickCount": 12, "format": ".1f", "title": "R-Value", "labelOverlap": false}}}},
     {"data": {"name": "R7F_sig"}, "transform": [{"fold": ["curve", "curve2"], "as": ["end", "xv"]}], "mark": {"type": "text", "fontSize": 13, "fontWeight": "bold", "baseline": "alphabetic", "color": "black"}, "encoding": {"x": {"field": "xv", "type": "quantitative", "aggregate": "mean"}, "y": {"field": "y", "type": "quantitative"}, "text": {"field": "label"}}}
    ]}
   ]}]}
 ]}
]
}
